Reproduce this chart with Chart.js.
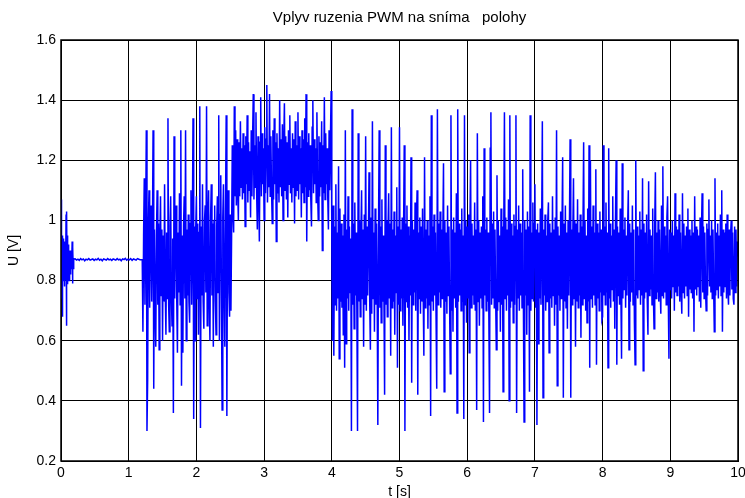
<!DOCTYPE html>
<html><head><meta charset="utf-8">
<style>html,body{margin:0;padding:0;background:#fff}canvas{display:block}</style>
<script src="https://cdn.jsdelivr.net/npm/chart.js@4.4.0/dist/chart.umd.min.js"></script>
</head><body>
<canvas id="c" width="745" height="498"></canvas>
<script>
const chartTitle = "Vplyv ruzenia PWM na sníma   polohy";
const xTitle = "t [s]";
const yTitle = "U [V]";
const xTicks = [0,1,2,3,4,5,6,7,8,9,10];
const yTicks = [0.2,0.4,0.6,0.8,1,1.2,1.4,1.6];

// start-up transient: t0 = 0 s, sample step 0.005 s
const uStart = [0.87,1.07,0.74,0.95,0.68,0.92,0.80,0.94,0.82,0.90,0.78,0.93,0.84,0.89,0.80,1.02,0.65,1.03,0.79,0.95,
  0.82,0.92,0.84,0.90,0.80,0.88,0.85,0.90,0.82,0.89,0.84,0.88,0.85,0.93,0.79,0.91,0.84,0.875];
// steady level without PWM: t0 = 0.19 s, step 0.02 s
const uFlat = [0.870,0.872,0.868,0.871,0.867,0.873,0.869,0.872,0.866,0.871,
  0.869,0.873,0.868,0.870,0.872,0.867,0.871,0.869,0.874,0.868,
  0.871,0.866,0.872,0.870,0.868,0.873,0.869,0.871,0.867,0.872,
  0.870,0.868,0.873,0.869,0.871,0.866,0.872,0.870,0.874,0.868,
  0.871,0.869,0.873,0.867,0.872,0.870,0.868,0.873,0.871,0.869];
// PWM noise, first level: t0 = 1.20 s, step 0.01 s
const uPwm1 = [0.87,0.63,0.95,1.14,0.72,0.97,1.30,0.30,0.47,0.98,
  1.10,0.71,0.96,1.05,0.73,0.94,1.30,0.44,0.97,0.74,
  0.58,0.95,1.10,0.72,0.99,0.57,0.93,1.08,0.75,0.97,
  0.60,0.95,0.73,1.12,0.76,0.62,0.96,0.74,1.34,0.72,
  0.63,0.98,1.08,0.75,0.65,0.94,0.36,1.28,0.74,0.97,
  1.05,0.73,0.56,0.96,0.76,1.09,0.72,1.30,0.45,0.95,
  0.56,0.98,1.08,0.74,1.30,0.60,0.97,0.75,1.02,0.73,
  0.66,0.99,1.10,0.72,0.96,1.34,0.34,0.98,0.60,0.97,
  1.08,0.74,0.99,0.62,0.96,1.38,0.31,0.98,0.75,1.12,
  0.73,0.64,1.00,1.05,0.76,1.38,0.65,0.97,1.10,0.74,
  0.60,1.01,1.12,0.75,0.99,0.58,1.00,1.05,0.73,0.62,
  0.98,1.08,0.76,1.35,0.60,1.02,1.15,0.74,0.37,1.01,
  1.12,0.75,0.58,1.03,1.35,0.35,1.00,1.10,0.76,0.68,
  1.02,0.70];
// raised level: t0 = 2.52 s, step 0.01 s
const uHigh = [0.95,1.25,1.02,0.96,1.38,1.08,1.30,1.05,1.27,1.10,
  1.00,1.26,1.08,1.33,1.11,1.24,1.07,1.29,1.09,1.25,
  0.98,1.28,1.12,1.35,1.06,1.26,1.10,1.23,1.01,1.30,
  1.08,1.27,1.42,1.07,1.25,1.11,1.36,1.09,0.97,1.28,
  1.10,0.93,1.26,1.41,1.08,1.29,1.12,1.24,1.00,1.31,
  1.09,1.27,1.45,1.06,1.25,1.11,1.42,1.08,1.28,1.10,
  0.99,1.30,1.07,1.34,1.12,1.26,0.93,1.29,1.09,1.24,
  1.06,1.40,1.11,1.27,1.08,1.32,1.00,1.25,1.39,1.10,
  1.28,1.07,1.26,1.01,1.30,1.12,1.35,1.09,1.24,1.06,
  1.29,1.11,1.27,0.99,1.33,1.08,1.25,1.10,1.36,1.07,
  1.28,1.12,1.24,1.01,1.30,1.09,1.27,1.06,1.34,1.11,
  1.42,0.93,1.26,1.08,1.29,1.10,1.25,1.07,0.98,1.31,
  1.40,1.09,1.27,1.12,1.24,1.06,1.36,1.10,1.00,1.28,
  1.08,1.26,1.11,1.33,0.90,1.25,1.09,1.41,1.07,1.29,
  1.12,1.24,1.08,0.97,1.30,1.10,1.27,1.43];
// PWM noise, second level 4-7 s: t0 = 4.00 s, step 0.01 s
const uPwm2 = [0.95,0.60,1.05,0.55,0.98,0.72,1.12,0.70,0.96,0.74,
  1.18,0.54,1.04,0.73,0.99,0.71,0.95,0.62,1.02,0.51,
  1.30,0.59,0.97,0.74,1.08,0.70,0.98,0.76,0.94,0.30,
  1.37,0.72,0.99,0.64,1.06,0.75,0.96,0.71,0.30,1.29,
  0.73,1.00,0.68,0.95,1.10,0.74,0.97,0.58,1.02,0.72,
  1.28,0.70,0.98,0.75,0.94,1.16,0.73,0.57,1.01,0.69,
  1.33,0.74,0.96,0.63,1.04,0.72,0.99,0.76,0.32,0.97,
  1.30,0.71,0.98,0.66,1.07,0.73,0.95,0.75,0.42,1.25,
  0.72,1.00,0.68,0.96,1.09,0.74,0.99,0.55,1.31,0.71,
  0.97,0.73,1.03,0.62,0.95,0.76,1.11,0.51,0.98,0.72,
  1.31,0.70,0.97,0.74,1.01,0.65,0.96,1.25,0.30,0.99,
  0.73,1.05,0.71,0.98,0.60,0.95,0.75,1.21,0.46,1.00,
  0.72,0.97,0.76,1.06,0.70,0.99,1.10,0.42,0.96,0.74,
  1.01,0.69,0.98,0.73,1.04,0.75,0.55,1.21,0.71,0.97,
  0.74,1.00,0.64,0.95,0.72,1.08,0.35,1.35,0.73,0.98,
  0.70,1.02,0.75,0.96,0.68,0.44,1.37,0.72,0.99,0.76,
  1.03,0.71,0.97,0.74,0.95,1.19,0.43,1.00,0.73,0.96,
  0.69,1.05,0.75,0.98,0.72,0.49,1.35,0.70,0.97,0.63,
  1.01,0.74,0.96,0.71,1.09,0.36,1.37,0.73,0.99,0.75,
  0.97,0.70,1.04,0.73,0.95,0.34,1.35,0.72,1.00,0.66,
  0.98,0.74,1.02,0.56,0.96,1.20,0.71,0.99,0.75,0.95,
  0.72,1.06,0.70,0.97,0.37,1.29,0.73,1.00,0.65,0.96,
  0.74,0.98,0.71,1.08,0.33,1.24,0.75,0.97,0.70,1.01,
  0.73,0.96,0.68,0.36,1.24,1.36,0.72,0.99,0.74,1.03,
  0.71,0.97,0.75,0.57,1.15,0.70,1.00,0.73,0.95,0.63,
  1.04,0.72,0.98,0.43,0.96,1.36,0.74,1.01,0.70,0.97,
  0.75,1.07,0.40,1.35,0.71,0.99,0.73,0.95,0.66,1.02,
  0.72,0.98,1.35,0.36,0.97,0.74,1.05,0.70,0.99,0.75,
  0.96,0.71,1.17,0.73,0.33,1.00,0.75,0.97,0.62,1.03,
  0.72,0.98,0.43,1.35,0.70,0.96,0.74,1.06,0.73,0.99];
// PWM noise, second level 7-10 s: t0 = 7.00 s, step 0.01 s
const uPwm3 = [1.12,0.71,0.97,0.32,0.99,0.59,0.96,0.74,1.04,0.72,
  0.98,1.33,0.41,0.97,0.75,1.02,0.70,0.95,0.73,1.00,
  1.06,0.56,0.99,0.74,0.96,0.71,1.08,0.75,0.97,0.65,
  1.01,0.72,1.30,0.45,0.98,0.75,0.95,0.70,1.03,0.74,
  0.97,1.21,0.41,0.99,0.73,1.05,0.71,0.96,0.64,1.00,
  0.75,0.98,1.27,0.41,0.97,0.72,0.95,1.14,0.74,1.00,
  0.58,0.99,0.73,1.07,0.71,0.96,0.75,1.02,0.61,0.98,
  0.72,0.97,1.26,0.74,1.00,0.70,0.95,0.66,1.04,0.73,
  1.25,0.51,1.20,0.74,0.98,0.71,1.05,0.75,0.96,0.72,
  1.17,0.52,0.99,0.74,0.96,0.70,1.03,0.76,0.97,0.67,
  0.68,1.25,0.75,0.98,0.72,1.06,0.76,0.96,0.51,1.24,
  0.74,0.99,0.71,0.95,0.77,1.08,0.73,0.97,0.64,1.00,
  1.20,0.52,0.98,0.75,0.96,0.72,1.04,0.76,0.54,1.19,
  0.74,0.97,0.77,1.01,0.71,0.95,0.75,0.98,1.10,0.57,
  0.99,0.73,0.96,0.76,1.05,0.72,0.97,0.66,0.52,1.20,
  0.75,0.98,0.74,0.95,0.77,1.03,0.72,0.97,0.75,1.14,
  0.50,0.99,0.74,0.96,0.76,1.02,0.73,0.62,1.13,0.75,
  0.97,0.77,0.95,0.72,1.04,0.75,0.64,0.98,1.16,0.74,
  0.96,0.76,1.00,0.73,0.97,0.77,0.69,1.05,0.75,1.18,
  0.74,0.98,0.76,0.95,0.72,1.01,1.08,0.75,0.54,0.97,
  0.77,0.96,0.74,1.00,0.78,0.95,0.70,1.09,0.76,0.98,
  0.75,0.97,0.78,1.02,0.73,0.96,0.77,0.69,1.09,0.76,
  0.99,0.74,0.95,0.78,0.98,0.75,1.04,0.68,0.97,0.77,
  0.95,0.76,1.00,0.74,0.96,0.63,1.08,0.77,0.98,0.75,
  0.97,0.78,0.95,0.73,1.01,0.71,0.96,1.09,0.76,0.98,
  0.74,0.96,0.77,0.70,0.99,0.75,0.97,1.07,0.78,0.95,
  0.76,1.00,0.74,0.97,0.78,0.63,1.14,0.75,0.96,0.77,
  0.99,0.74,0.95,0.78,1.02,0.75,1.10,0.63,0.97,0.76,
  0.96,0.78,0.99,0.74,1.02,0.77,0.72,0.97,0.75,0.95,
  1.00,0.77,0.96,0.74,0.72,0.98,0.76,0.97,0.78,0.93,
  0.88];

const segments = [
  {t0: 0.00, dt: 0.005, u: uStart},
  {t0: 0.19, dt: 0.02, u: uFlat},
  {t0: 1.20, dt: 0.01, u: uPwm1},
  {t0: 2.52, dt: 0.01, u: uHigh},
  {t0: 4.00, dt: 0.01, u: uPwm2},
  {t0: 7.00, dt: 0.01, u: uPwm3}
];
const points = [];
segments.forEach(s => s.u.forEach((v, i) => points.push({x: +(s.t0 + i * s.dt).toFixed(4), y: v})));

const FONT = '"Liberation Sans", Arial, sans-serif';
Chart.defaults.font.family = FONT;
Chart.defaults.color = '#000';

const boxPlugin = {
  id: 'box',
  afterDatasetsDraw(chart) {
    const {ctx, chartArea: a} = chart;
    ctx.save();
    ctx.strokeStyle = '#000';
    ctx.lineWidth = 1.5;
    ctx.strokeRect(a.left, a.top, a.right - a.left, a.bottom - a.top);
    ctx.restore();
  }
};

new Chart(document.getElementById('c'), {
  type: 'line',
  data: {datasets: [{
    data: points,
    borderColor: '#0000ff',
    borderWidth: 1.5,
    pointRadius: 0,
    fill: false,
    tension: 0
  }]},
  options: {
    responsive: false,
    animation: false,
    devicePixelRatio: 1,
    parsing: false,
    normalized: true,
    events: [],
    layout: {padding: {left: 0, right: 7, top: 0, bottom: 0}},
    plugins: {
      legend: {display: false},
      tooltip: {enabled: false},
      title: {
        display: true,
        fullSize: false,
        text: chartTitle,
        color: '#000',
        font: {size: 15, weight: 'normal', family: FONT, lineHeight: 1.2},
        padding: {top: 9, bottom: 13}
      }
    },
    scales: {
      x: {
        type: 'linear',
        min: 0, max: 10,
        afterBuildTicks: s => { s.ticks = xTicks.map(v => ({value: v})); },
        afterFit: s => { s.height = 37; s.paddingLeft = 0; s.paddingRight = 0; },
        ticks: {font: {size: 14}, color: '#000', padding: 4, maxRotation: 0,
                callback: v => String(v)},
        grid: {color: '#000', lineWidth: 1, drawTicks: false},
        border: {display: true, color: '#000', width: 1},
        title: {display: true, text: xTitle, color: '#000',
                font: {size: 14, lineHeight: 1}, padding: {top: 0, bottom: -1}}
      },
      y: {
        type: 'linear',
        min: 0.2, max: 1.6,
        afterBuildTicks: s => { s.ticks = yTicks.map(v => ({value: v})); },
        afterFit: s => { s.width = 61; s.paddingTop = 0; s.paddingBottom = 0; },
        ticks: {font: {size: 14}, color: '#000', padding: 5,
                callback: v => String(v)},
        grid: {color: '#000', lineWidth: 1, drawTicks: false},
        border: {display: true, color: '#000', width: 1},
        title: {display: true, text: yTitle, color: '#000',
                font: {size: 14, lineHeight: 1}, padding: {top: 7, bottom: 0}}
      }
    }
  },
  plugins: [boxPlugin]
});
</script>
</body></html>
